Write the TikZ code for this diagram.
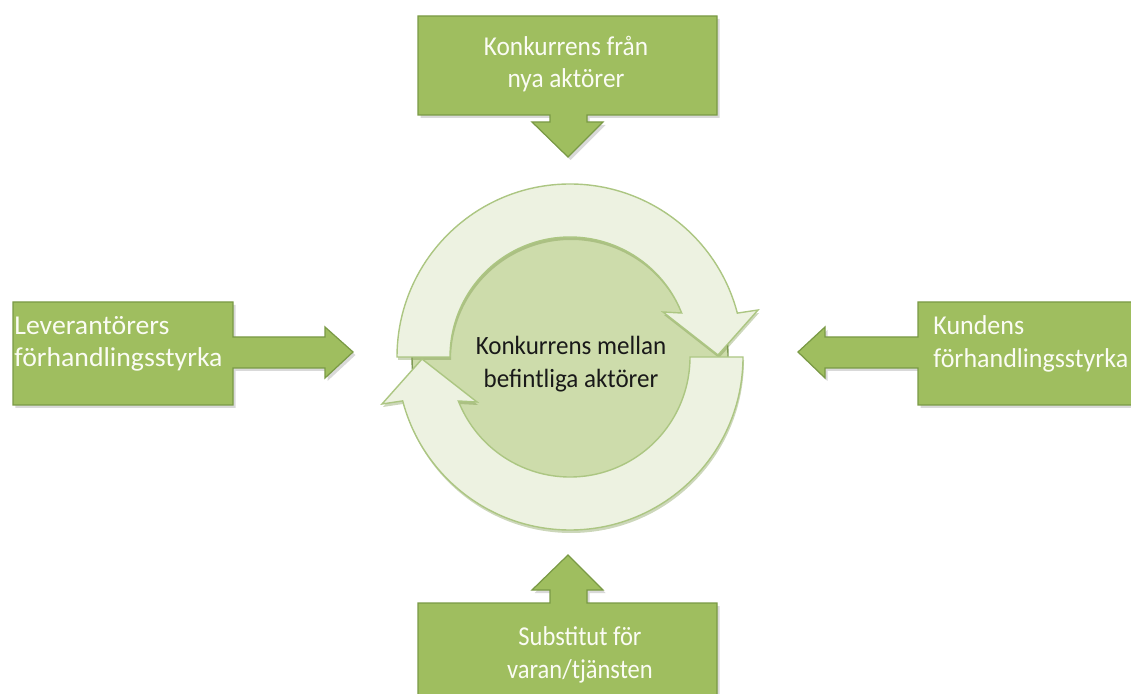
\documentclass[tikz,border=0pt]{standalone}
\usepackage{fontspec}
\setmainfont{Carlito}
\newfontfamily\fontA[FakeStretch=0.93]{Carlito}
\newfontfamily\fontB[FakeStretch=0.90]{Carlito}
\newfontfamily\fontC[FakeStretch=0.955]{Carlito}
\newfontfamily\fontD[FakeStretch=0.95]{Carlito}
\newfontfamily\fontE[FakeStretch=1.02]{Carlito}
\usetikzlibrary{shadows,calc}
\definecolor{boxgreen}{HTML}{9FBE5F}
\definecolor{boxborder}{HTML}{7A9A45}
\definecolor{ringfill}{HTML}{EDF2E1}
\definecolor{ringborder}{HTML}{ACC682}
\definecolor{ringshadow}{HTML}{6E8C3A}
\definecolor{innerfill}{HTML}{CDDCAB}
\definecolor{innerborder}{HTML}{7F9A55}
\definecolor{txtwhite}{HTML}{FBFCF4}
\tikzset{
 callout/.style={fill=boxgreen, draw=boxborder, line width=0.7pt, drop shadow={opacity=0.3, shadow xshift=0.05cm, shadow yshift=-0.06cm}},
 ringarrow/.style={fill=ringfill, draw=ringborder, line width=0.8pt, drop shadow={fill=ringshadow, opacity=0.35, shadow xshift=0.02cm, shadow yshift=-0.06cm}},
 boxtext/.style={text=txtwhite, inner sep=0pt},
 centertext/.style={text=black!90, font=\fontD\fontsize{15}{18.5}\selectfont, inner sep=0pt, align=center},
}
\begin{document}
\begin{tikzpicture}[x=0.02cm,y=0.02cm]
\useasboundingbox (0,0) rectangle (1131,693);
\clip (0,0) rectangle (1131,693);
% top callout
\path[callout] (418,578) -- (418,677) -- (717,677) -- (717,578) -- (587,578) -- (587,571) -- (603,571) -- (568,536) -- (532,571) -- (550,571) -- (550,578) -- cycle;
% left callout
\path[callout] (13,288) -- (13,391) -- (233,391) -- (233,356) -- (325,356) -- (325,366) -- (353,341) -- (325,315) -- (325,325) -- (233,325) -- (233,288) -- cycle;
% right callout
\path[callout] (1140,288) -- (1140,391) -- (918,391) -- (918,356) -- (825,356) -- (825,366) -- (798,341) -- (825,315) -- (825,325) -- (918,325) -- (918,288) -- cycle;
% bottom callout
\path[callout] (418,-9) -- (418,90) -- (550,90) -- (550,103) -- (532,103) -- (568,138) -- (603,103) -- (587,103) -- (587,90) -- (717,90) -- (717,-9) -- cycle;
% central circle
\coordinate (C) at (570,336);
\draw[draw=innerborder, line width=0.8pt, fill=innerfill] (C) circle[radius=158];
% upper ring arrow
\draw[ringarrow] ($(C)+(180:173)$) arc[start angle=180, end angle=14.7, radius=173]
  -- ($(C)+(188,47)$) -- ($(C)+(148,2)$) -- ($(C)+(93,45)$)
  -- ($(C)+(21.5:120)$) arc[start angle=21.5, end angle=180, radius=120] -- cycle;
% lower ring arrow
\draw[ringarrow] ($(C)+(0:173)$) arc[start angle=0, end angle=-165.3, radius=173]
  -- ($(C)+(-188,-47)$) -- ($(C)+(-148,-2)$) -- ($(C)+(-93,-45)$)
  -- ($(C)+(201.5:120)$) arc[start angle=201.5, end angle=360, radius=120] -- cycle;
% texts
\node[boxtext, align=center, font=\fontA\fontsize{15.5}{18.5}\selectfont] (newentrants) at (566,629) {Konkurrens från\\nya aktörer};
\node[boxtext, align=left, anchor=west, font=\fontE\fontsize{15.5}{18.5}\selectfont] (suppliers) at (14,349) {Leverantörers\\förhandlingsstyrka};
\node[boxtext, align=left, anchor=west, font=\fontC\fontsize{15.5}{18.5}\selectfont] (buyers) at (933,349) {Kundens\\förhandlingsstyrka};
\node[boxtext, align=center, font=\fontB\fontsize{15.5}{18.5}\selectfont] (substitutes) at (580,38) {Substitut för\\varan/tjänsten};
\node[centertext] (rivalry) at (571,329) {Konkurrens mellan\\befintliga aktörer};
\end{tikzpicture}
\end{document}
